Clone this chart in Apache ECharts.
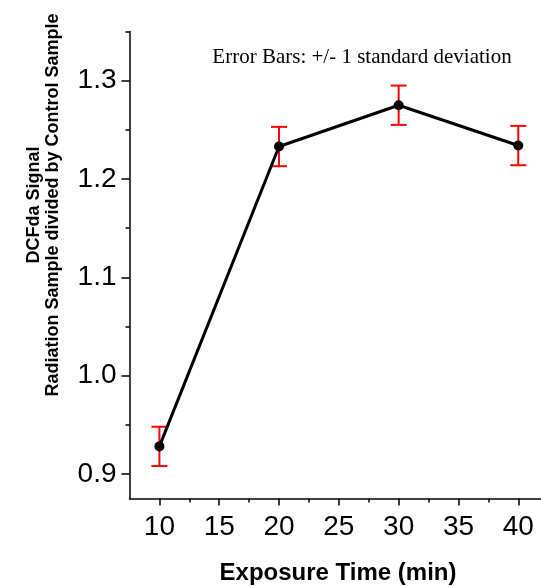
<!DOCTYPE html>
<html>
<head>
<meta charset="utf-8">
<script src="https://cdn.jsdelivr.net/npm/echarts@6/dist/echarts.min.js"></script>
<style>
html,body{margin:0;padding:0;background:#fff;}
#chart{width:541px;height:587px;}
</style>
</head>
<body>
<div id="chart"></div>
<script>
// Data
const exposureTimes = [10, 20, 30, 40];
const signalRatio = [0.928, 1.233, 1.275, 1.234];
const stdDev = [0.020, 0.020, 0.020, 0.020];
const xMajorTicks = [10, 15, 20, 25, 30, 35, 40];
const xMinorTicks = [12.5, 17.5, 22.5, 27.5, 32.5, 37.5];
const yMajorTicks = [0.9, 1.0, 1.1, 1.2, 1.3];
const yMinorTicks = [0.95, 1.05, 1.15, 1.25, 1.35];
const xTitle = 'Exposure Time (min)';
const yTitleLines = ['DCFda Signal', 'Radiation Sample divided by Control Sample'];
const noteText = 'Error Bars: +/- 1 standard deviation';

const SANS = '"Liberation Sans", Arial, sans-serif';
const SERIF = '"Liberation Serif", "Times New Roman", serif';

const lineData = exposureTimes.map((x, i) => [x, signalRatio[i]]);
const errData = exposureTimes.map((x, i) => [x, signalRatio[i] - stdDev[i], signalRatio[i] + stdDev[i]]);

const chart = echarts.init(document.getElementById('chart'), null, {renderer: 'canvas'});

const X_MIN = 7.5, X_MAX = 41.9, Y_MIN = 0.875, Y_MAX = 1.35;

chart.setOption({
  backgroundColor: '#fff',
  animation: false,
  grid: {left: 129.5, top: 31.5, right: 0, bottom: 88.5, containLabel: false},
  xAxis: [
    {
      type: 'value', min: X_MIN, max: X_MAX, position: 'bottom',
      axisLine: {show: true, lineStyle: {color: '#000', width: 1.5}},
      axisTick: {show: true, inside: false, length: 7, lineStyle: {color: '#000', width: 1.5}, customValues: xMajorTicks},
      axisLabel: {show: true, customValues: xMajorTicks, margin: 15, color: '#000', fontSize: 28, fontFamily: SANS,
        formatter: v => String(Math.round(v))},
      splitLine: {show: false}
    },
    {
      type: 'value', min: X_MIN, max: X_MAX, position: 'bottom', gridIndex: 0,
      axisLine: {show: false},
      axisTick: {show: true, inside: false, length: 4, lineStyle: {color: '#000', width: 1.5}, customValues: xMinorTicks},
      axisLabel: {show: false},
      splitLine: {show: false}
    }
  ],
  yAxis: [
    {
      type: 'value', min: Y_MIN, max: Y_MAX, position: 'left',
      axisLine: {show: true, lineStyle: {color: '#000', width: 1.5}},
      axisTick: {show: true, inside: false, length: 8, lineStyle: {color: '#000', width: 1.5}, customValues: yMajorTicks},
      axisLabel: {show: true, customValues: yMajorTicks, margin: 13, color: '#000', fontSize: 28, fontFamily: SANS,
        formatter: v => v.toFixed(1)},
      splitLine: {show: false}
    },
    {
      type: 'value', min: Y_MIN, max: Y_MAX, position: 'left', offset: 0, gridIndex: 0,
      axisLine: {show: false},
      axisTick: {show: true, inside: false, length: 4, lineStyle: {color: '#000', width: 1.5}, customValues: yMinorTicks},
      axisLabel: {show: false},
      splitLine: {show: false}
    }
  ],
  graphic: [
    {
      type: 'text', x: 44, y: 205, rotation: Math.PI / 2,
      style: {text: yTitleLines.join('\n'), font: 'bold 18px ' + SANS, fill: '#000',
        textAlign: 'center', textVerticalAlign: 'middle', lineHeight: 19}
    },
    {
      type: 'text', x: 338, y: 573,
      style: {text: xTitle, font: 'bold 24px ' + SANS, fill: '#000', textAlign: 'center', textVerticalAlign: 'middle'}
    },
    {
      type: 'text', x: 362, y: 57,
      style: {text: noteText, font: '21px ' + SERIF, fill: '#000', textAlign: 'center', textVerticalAlign: 'middle'}
    }
  ],
  series: [
    {
      type: 'custom', xAxisIndex: 0, yAxisIndex: 0, data: errData, z: 2,
      renderItem: function (params, api) {
        const x = api.value(0);
        const lo = api.coord([x, api.value(1)]);
        const hi = api.coord([x, api.value(2)]);
        const hw = 8;
        const st = {stroke: '#ff0000', lineWidth: 2};
        return {
          type: 'group',
          children: [
            {type: 'line', shape: {x1: lo[0], y1: lo[1], x2: hi[0], y2: hi[1]}, style: st},
            {type: 'line', shape: {x1: lo[0] - hw, y1: lo[1], x2: lo[0] + hw, y2: lo[1]}, style: st},
            {type: 'line', shape: {x1: hi[0] - hw, y1: hi[1], x2: hi[0] + hw, y2: hi[1]}, style: st}
          ]
        };
      }
    },
    {
      type: 'line', xAxisIndex: 0, yAxisIndex: 0, data: lineData, z: 3,
      symbol: 'circle', symbolSize: 10, showSymbol: true,
      lineStyle: {color: '#000', width: 3},
      itemStyle: {color: '#000', borderWidth: 0}
    }
  ]
});
</script>
</body>
</html>
